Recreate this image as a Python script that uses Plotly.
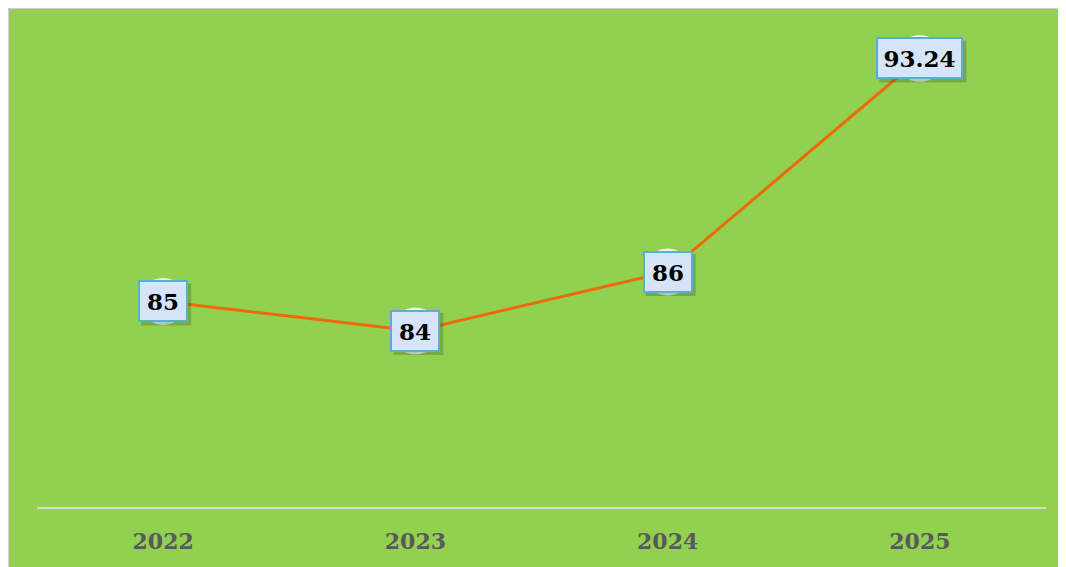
import plotly.graph_objects as go

years = ["2022", "2023", "2024", "2025"]
values = [85, 84, 86, 93.24]
labels = ["85", "84", "86", "93.24"]

GREEN = "#92D050"
W, H = 1058, 559
L, R, T, B = 29, 20, 0, 60

fig = go.Figure()
fig.add_trace(go.Scatter(
    x=list(range(len(years))), y=values, mode="lines+markers",
    line=dict(color="#ED6A0C", width=3),
    marker=dict(size=47, color="#EEF1F4", line=dict(width=0)),
    hoverinfo="skip", showlegend=False,
))

shapes = []
for i, (v, t) in enumerate(zip(values, labels)):
    tw = 34 if len(t) <= 2 else 71
    half_w = (tw + 16) / 2
    # soft shadow behind the label box
    shapes.append(dict(
        type="rect", xref="x", yref="y", xsizemode="pixel", ysizemode="pixel",
        xanchor=i, yanchor=v, x0=-half_w + 3, x1=half_w + 3, y0=-21 - 3, y1=21 - 3,
        fillcolor="rgba(40,60,20,0.25)", line=dict(width=0), layer="above",
    ))
    fig.add_annotation(
        x=i, y=v, text=f"<b>{t}</b>", showarrow=False, width=tw, height=26,
        font=dict(family="DejaVu Serif", size=23, color="#000000"),
        bgcolor="#D6E4F8", bordercolor="#55B0D2", borderwidth=2, borderpad=6,
    )

shapes += [
    dict(type="line", xref="paper", yref="paper",
         x0=-L / (W - L - R), x1=-L / (W - L - R), y0=-B / (H - T - B), y1=1,
         line=dict(color="#D0D0D0", width=2), layer="above"),
    dict(type="line", xref="paper", yref="paper",
         x0=-L / (W - L - R), x1=1 + R / (W - L - R), y0=1, y1=1,
         line=dict(color="#D0D0D0", width=2), layer="above"),
]

fig.update_layout(
    width=W, height=H,
    margin=dict(l=L, r=R, t=T, b=B, pad=0),
    paper_bgcolor=GREEN, plot_bgcolor=GREEN,
    shapes=shapes,
    xaxis=dict(
        showgrid=False, zeroline=False,
        showline=True, linecolor="#D9D9D9", linewidth=2,
        ticks="", tickmode="array", tickvals=list(range(len(years))),
        ticktext=[f"<b>{y}</b>" for y in years],
        tickfont=dict(family="DejaVu Serif", size=22, color="#595959"),
        ticklabelstandoff=14,
        range=[-0.5, 3.5],
    ),
    yaxis=dict(
        range=[78.03, 94.95], showgrid=False, zeroline=False, showline=False,
        showticklabels=False, ticks="",
    ),
)

fig.write_html("out.html")
